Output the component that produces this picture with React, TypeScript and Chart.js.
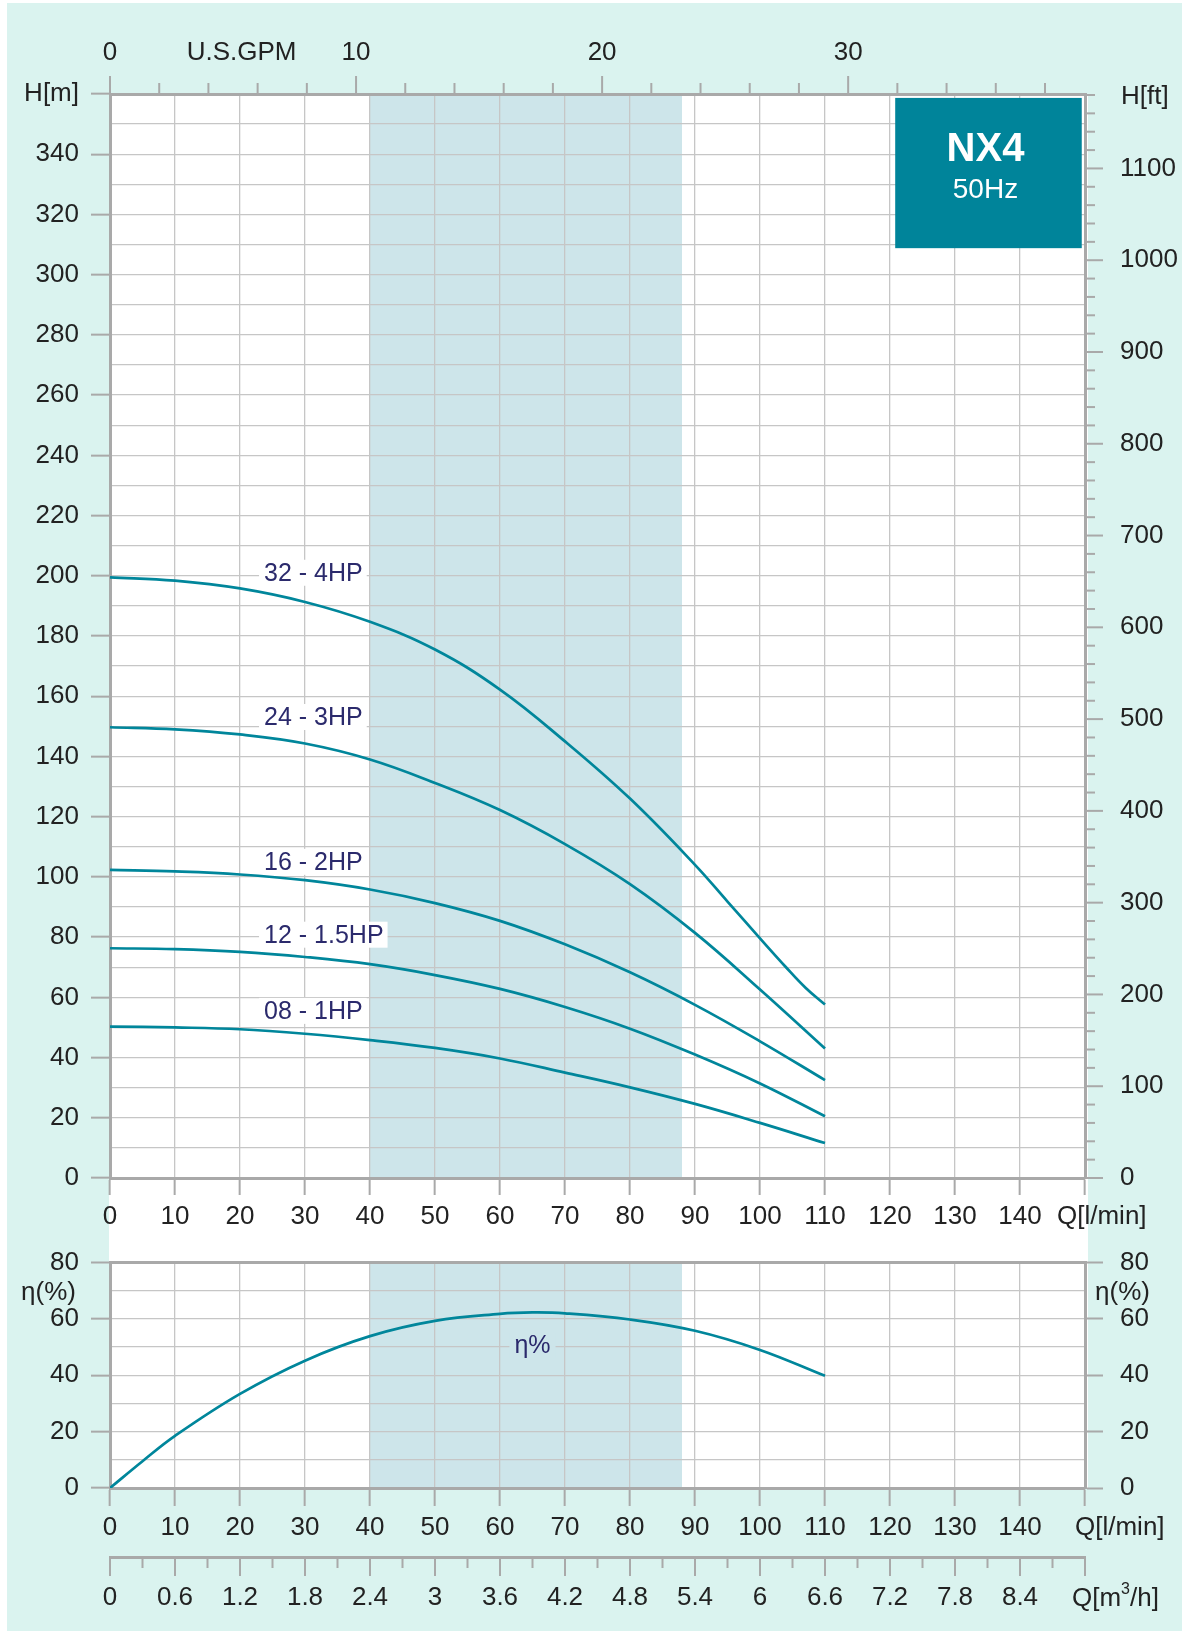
import React, { useEffect, useRef } from 'react';
import { Chart, registerables } from 'chart.js';

Chart.register(...registerables);

// ---------- data ----------
const FLOW = [0, 10, 20, 30, 40, 50, 60, 70, 80, 90, 100, 110];
const HEAD_24_3HP = [149.7, 149.0, 147.3, 144.3, 139.0, 131.2, 122.2, 110.9, 97.6, 81.4, 62.6, 43.0];
const HEAD_16_2HP = [102.3, 101.8, 100.8, 98.9, 95.8, 91.3, 85.4, 77.6, 68.3, 57.5, 45.4, 32.5];
const HEAD_12_15HP = [76.3, 76.0, 75.1, 73.4, 71.0, 67.4, 62.8, 56.8, 49.6, 41.0, 31.4, 20.5];
const HEAD_08_1HP = [50.3, 50.0, 49.4, 47.9, 45.8, 43.2, 39.7, 35.0, 30.1, 24.6, 18.3, 11.6];
const FLOW_32_4HP = [0, 10, 20, 30, 40, 50, 60, 70, 80, 90, 95, 100, 104, 107, 110];
const HEAD_32_4HP = [199.5, 198.4, 195.8, 191.3, 184.7, 175.5, 162.2, 145.0, 126.0, 104.0, 91.8, 79.6, 70.0, 63.2, 57.6];

const FLOW_ETA = [0, 5, 10, 20, 30, 40, 50, 60, 65, 70, 80, 90, 100, 110];
const ETA = [0, 9.5, 18.5, 33.4, 45.2, 53.9, 59.3, 61.8, 62.3, 62.0, 59.8, 55.8, 49.0, 39.8];

const CURVE_NAMES = ['32 - 4HP', '24 - 3HP', '16 - 2HP', '12 - 1.5HP', '08 - 1HP'];
const CURVE_LABEL_FLOW = [23.7, 23.7, 23.7, 23.7, 23.7];
const CURVE_LABEL_HEAD = [201.0, 153.1, 105.0, 80.8, 55.5];
const ETA_LABEL_FLOW = 65;
const ETA_LABEL_VALUE = 50.5;

const BAND_FROM = 40;
const BAND_TO = 88;
const LPM_MAX = 150;
const HEAD_MAX = 360;
const ETA_MAX = 80;
const LPM_PER_GPM = 3.785411784;
const FT_PER_M = 3.28084;
const M3H_PER_LPM = 0.06;

const LPM_LABELS = ['0', '10', '20', '30', '40', '50', '60', '70', '80', '90', '100', '110', '120', '130', '140'];
const GPM_LABELS = ['0', '10', '20', '30'];
const FT_LABELS = ['0', '100', '200', '300', '400', '500', '600', '700', '800', '900', '1000', '1100'];
const M3H_LABELS = ['0', '0.6', '1.2', '1.8', '2.4', '3', '3.6', '4.2', '4.8', '5.4', '6', '6.6', '7.2', '7.8', '8.4'];

const MODEL = 'NX4';
const FREQ = '50Hz';
const BOX_FLOW = [120.8, 149.5];
const BOX_HEAD = [308.8, 358.7];

// ---------- styles ----------
const FONT = "'Liberation Sans', Arial, Helvetica, sans-serif";
const TEXT = '#222222';
const GRID = '#c6c6c6';
const FRAME = '#a9a9a9';
const TEAL = '#00869b';
const NAVY = '#2b2a6c';
const BAND = '#cde5ea';
const MINT = '#daf3ef';
const BOXC = '#00849a';
const TRANSP = 'rgba(0,0,0,0)';
const FS = 26;

Chart.defaults.font.family = FONT;
Chart.defaults.font.size = FS;
Chart.defaults.color = TEXT;

const near = (a: number, b: number) => Math.abs(a - b) < 1e-6;

function curve(flow: number[], head: number[]) {
  return {
    data: flow.map((q, i) => ({ x: q, y: head[i] })),
    borderColor: TEAL,
    borderWidth: 2.7,
    pointRadius: 0,
    tension: 0.4,
    fill: false,
    xAxisID: 'x',
    yAxisID: 'y',
  };
}

function band(chart: any) {
  const { ctx, chartArea: a, scales } = chart;
  const x0 = scales.x.getPixelForValue(BAND_FROM);
  const x1 = scales.x.getPixelForValue(BAND_TO);
  ctx.save();
  ctx.fillStyle = BAND;
  ctx.fillRect(x0, a.top, x1 - x0, a.bottom - a.top);
  ctx.restore();
}

function tick(ctx: CanvasRenderingContext2D, x0: number, y0: number, x1: number, y1: number) {
  ctx.beginPath();
  ctx.moveTo(x0, y0);
  ctx.lineTo(x1, y1);
  ctx.stroke();
}

const headPlugin = {
  id: 'headDecor',
  beforeDraw(chart: any) {
    band(chart);
  },
  beforeDatasetsDraw(chart: any) {
    const { ctx, scales } = chart;
    ctx.save();
    ctx.font = `25px ${FONT}`;
    ctx.textBaseline = 'middle';
    ctx.textAlign = 'left';
    CURVE_NAMES.forEach((name, i) => {
      const px = scales.x.getPixelForValue(CURVE_LABEL_FLOW[i]);
      const py = scales.y.getPixelForValue(CURVE_LABEL_HEAD[i]);
      const w = ctx.measureText(name).width;
      ctx.fillStyle = '#ffffff';
      ctx.fillRect(px - 5, py - 13, w + 9, 26);
      ctx.fillStyle = NAVY;
      ctx.fillText(name, px, py + 1);
    });
    ctx.restore();
  },
  afterDraw(chart: any) {
    const { ctx, chartArea: a, scales } = chart;
    ctx.save();
    ctx.strokeStyle = FRAME;
    ctx.lineWidth = 2;
    // GPM ticks
    for (let g = 0; g <= 38; g += 2) {
      const px = scales.x2.getPixelForValue(g);
      const len = g % 10 === 0 ? 18 : 11;
      tick(ctx, px, a.top - len, px, a.top);
    }
    // ft ticks
    for (let f = 0; f <= 1180; f += 20) {
      const py = scales.y2.getPixelForValue(f);
      const len = f % 100 === 0 ? 18 : 10;
      tick(ctx, a.right, py, a.right + len, py);
    }
    // model box
    const bx0 = scales.x.getPixelForValue(BOX_FLOW[0]);
    const bx1 = scales.x.getPixelForValue(BOX_FLOW[1]);
    const by0 = scales.y.getPixelForValue(BOX_HEAD[1]);
    const by1 = scales.y.getPixelForValue(BOX_HEAD[0]);
    ctx.fillStyle = BOXC;
    ctx.fillRect(bx0, by0, bx1 - bx0, by1 - by0);
    const cx = (bx0 + bx1) / 2 - 3;
    const cy = (by0 + by1) / 2;
    ctx.fillStyle = '#ffffff';
    ctx.textAlign = 'center';
    ctx.textBaseline = 'middle';
    ctx.font = `bold 40px ${FONT}`;
    ctx.fillText(MODEL, cx, cy - 23);
    ctx.font = `28px ${FONT}`;
    ctx.fillText(FREQ, cx, cy + 17);
    // axis titles
    ctx.fillStyle = TEXT;
    ctx.font = `${FS}px ${FONT}`;
    ctx.textAlign = 'center';
    ctx.fillText('U.S.GPM', scales.x2.getPixelForValue(5.35), a.top - 41);
    ctx.textAlign = 'left';
    ctx.fillText('H[ft]', a.right + 36, a.top + 3);
    ctx.fillText('Q[l/min]', a.right - 28, a.bottom + 39);
    ctx.restore();
  },
};

const etaPlugin = {
  id: 'etaDecor',
  beforeDraw(chart: any) {
    band(chart);
  },
  beforeDatasetsDraw(chart: any) {
    const { ctx, scales } = chart;
    const px = scales.x.getPixelForValue(ETA_LABEL_FLOW);
    const py = scales.y.getPixelForValue(ETA_LABEL_VALUE);
    ctx.save();
    ctx.font = `25px ${FONT}`;
    ctx.textAlign = 'center';
    ctx.textBaseline = 'middle';
    const w = ctx.measureText('η%').width;
    ctx.fillStyle = BAND;
    ctx.fillRect(px - w / 2 - 5, py - 13, w + 10, 26);
    ctx.fillStyle = NAVY;
    ctx.fillText('η%', px, py);
    ctx.restore();
  },
  afterDraw(chart: any) {
    const { ctx, chartArea: a, scales } = chart;
    const x3 = scales.x3;
    ctx.save();
    ctx.strokeStyle = FRAME;
    ctx.lineWidth = 2;
    for (let k = 0; k <= 30; k++) {
      const px = x3.getPixelForValue(k * 0.3);
      const len = k % 2 === 0 ? 19 : 11;
      tick(ctx, px, x3.top + 1, px, x3.top + len);
    }
    ctx.fillStyle = TEXT;
    ctx.font = `${FS}px ${FONT}`;
    ctx.textBaseline = 'middle';
    const ey = scales.y.getPixelForValue(69.2);
    ctx.textAlign = 'right';
    ctx.fillText('η(%)', a.left - 34, ey);
    ctx.fillText('η(%)', a.right + 65, ey);
    ctx.textAlign = 'left';
    ctx.fillText('Q[l/min]', a.right - 10, a.bottom + 40);
    // Q[m3/h]
    let tx = a.right - 13;
    const ty = x3.top + 42;
    ctx.fillText('Q[m', tx, ty);
    tx += ctx.measureText('Q[m').width;
    ctx.font = `16px ${FONT}`;
    ctx.fillText('3', tx, ty - 9);
    tx += ctx.measureText('3').width;
    ctx.font = `${FS}px ${FONT}`;
    ctx.fillText('/h]', tx, ty);
    ctx.restore();
  },
};

function HeadChart() {
  const ref = useRef<HTMLCanvasElement>(null);
  useEffect(() => {
    const chart = new Chart(ref.current as HTMLCanvasElement, {
      type: 'line',
      data: {
        datasets: [
          curve(FLOW_32_4HP, HEAD_32_4HP),
          curve(FLOW, HEAD_24_3HP),
          curve(FLOW, HEAD_16_2HP),
          curve(FLOW, HEAD_12_15HP),
          curve(FLOW, HEAD_08_1HP),
        ] as any,
      },
      options: {
        responsive: false,
        animation: false,
        devicePixelRatio: 1,
        layout: { padding: 0 },
        plugins: { legend: { display: false }, tooltip: { enabled: false } },
        scales: {
          x: {
            type: 'linear',
            position: 'bottom',
            min: 0,
            max: LPM_MAX,
            bounds: 'data',
            afterFit: (s: any) => { s.height = 62; },
            ticks: {
              stepSize: 10,
              autoSkip: false,
              maxRotation: 0,
              padding: 6,
              callback: (v: any) => LPM_LABELS[Math.round(v / 10)] ?? '',
            },
            grid: {
              color: (c: any) => (near(c.tick.value, 0) || near(c.tick.value, LPM_MAX) ? TRANSP : GRID),
              lineWidth: 1.3,
              drawTicks: true,
              tickLength: 17,
              tickColor: FRAME,
              tickWidth: 2,
            },
            border: { display: true, color: FRAME, width: 3 },
          },
          x2: {
            type: 'linear',
            position: 'top',
            min: 0,
            max: LPM_MAX / LPM_PER_GPM,
            bounds: 'data',
            afterFit: (s: any) => { s.height = 94; },
            ticks: {
              stepSize: 2,
              autoSkip: false,
              maxRotation: 0,
              padding: 26,
              callback: (v: any) => {
                const k = Math.round(v);
                return near(v, k) && k % 10 === 0 ? GPM_LABELS[k / 10] ?? '' : '';
              },
            },
            grid: { drawOnChartArea: false, drawTicks: false },
            border: { display: true, color: FRAME, width: 3 },
          },
          y: {
            type: 'linear',
            position: 'left',
            min: 0,
            max: HEAD_MAX,
            bounds: 'data',
            afterFit: (s: any) => { s.width = 110; },
            ticks: {
              stepSize: 10,
              autoSkip: false,
              padding: 12,
              callback: (v: any) => (v % 20 === 0 ? (v === HEAD_MAX ? 'H[m]' : String(v)) : ''),
            },
            grid: {
              color: (c: any) => (near(c.tick.value, 0) || near(c.tick.value, HEAD_MAX) ? TRANSP : GRID),
              lineWidth: 1.3,
              tickLength: 19,
              tickColor: (c: any) => (c.tick.value % 20 === 0 ? FRAME : TRANSP),
              tickWidth: 2,
            },
            border: { display: true, color: FRAME, width: 3 },
          },
          y2: {
            type: 'linear',
            position: 'right',
            min: 0,
            max: HEAD_MAX * FT_PER_M,
            bounds: 'data',
            afterFit: (s: any) => { s.width = 97; },
            ticks: {
              stepSize: 20,
              autoSkip: false,
              padding: 35,
              callback: (v: any) => (near(v % 100, 0) ? FT_LABELS[Math.round(v / 100)] ?? '' : ''),
            },
            grid: { drawOnChartArea: false, drawTicks: false },
            border: { display: true, color: FRAME, width: 3 },
          },
        },
      } as any,
      plugins: [headPlugin],
    });
    return () => chart.destroy();
  }, []);
  return <canvas ref={ref} width={1182} height={1240} style={{ position: 'absolute', left: 0, top: 0 }} />;
}

function EtaChart() {
  const ref = useRef<HTMLCanvasElement>(null);
  useEffect(() => {
    const chart = new Chart(ref.current as HTMLCanvasElement, {
      type: 'line',
      data: { datasets: [curve(FLOW_ETA, ETA)] as any },
      options: {
        responsive: false,
        animation: false,
        devicePixelRatio: 1,
        layout: { padding: { top: 27, left: 0, right: 0, bottom: 0 } },
        plugins: { legend: { display: false }, tooltip: { enabled: false } },
        scales: {
          x: {
            type: 'linear',
            position: 'bottom',
            weight: 1,
            min: 0,
            max: LPM_MAX,
            bounds: 'data',
            afterFit: (s: any) => { s.height = 69; },
            ticks: {
              stepSize: 10,
              autoSkip: false,
              maxRotation: 0,
              padding: 6,
              callback: (v: any) => LPM_LABELS[Math.round(v / 10)] ?? '',
            },
            grid: {
              color: (c: any) => (near(c.tick.value, 0) || near(c.tick.value, LPM_MAX) ? TRANSP : GRID),
              lineWidth: 1.3,
              drawTicks: true,
              tickLength: 18,
              tickColor: FRAME,
              tickWidth: 2,
            },
            border: { display: true, color: FRAME, width: 3 },
          },
          x3: {
            type: 'linear',
            position: 'bottom',
            weight: 2,
            min: 0,
            max: LPM_MAX * M3H_PER_LPM,
            bounds: 'data',
            afterFit: (s: any) => { s.height = 74; },
            ticks: {
              stepSize: 0.3,
              autoSkip: false,
              maxRotation: 0,
              padding: 25,
              callback: (v: any) => {
                const k = Math.round(v / 0.3);
                return k % 2 === 0 ? M3H_LABELS[k / 2] ?? '' : '';
              },
            },
            grid: { drawOnChartArea: false, drawTicks: false },
            border: { display: true, color: FRAME, width: 3 },
          },
          y: {
            type: 'linear',
            position: 'left',
            min: 0,
            max: ETA_MAX,
            bounds: 'data',
            afterFit: (s: any) => { s.width = 110; },
            ticks: {
              stepSize: 10,
              autoSkip: false,
              padding: 12,
              callback: (v: any) => (v % 20 === 0 ? String(v) : ''),
            },
            grid: {
              color: (c: any) => (near(c.tick.value, 0) ? TRANSP : near(c.tick.value, ETA_MAX) ? FRAME : GRID),
              lineWidth: (c: any) => (near(c.tick.value, ETA_MAX) ? 3 : 1.3),
              tickLength: 19,
              tickColor: (c: any) => (c.tick.value % 20 === 0 ? FRAME : TRANSP),
              tickWidth: 2,
            },
            border: { display: true, color: FRAME, width: 3 },
          },
          y2: {
            type: 'linear',
            position: 'right',
            min: 0,
            max: ETA_MAX,
            bounds: 'data',
            afterFit: (s: any) => { s.width = 97; },
            ticks: { stepSize: 20, autoSkip: false, padding: 17 },
            grid: { drawOnChartArea: false, drawTicks: true, tickLength: 18, tickColor: FRAME, tickWidth: 2 },
            border: { display: true, color: FRAME, width: 3 },
          },
        },
      } as any,
      plugins: [etaPlugin],
    });
    return () => chart.destroy();
  }, []);
  return <canvas ref={ref} width={1182} height={401} style={{ position: 'absolute', left: 0, top: 1230 }} />;
}

export default function App() {
  return (
    <div style={{ position: 'absolute', left: 0, top: 0, width: 1182, height: 1631, background: '#ffffff', overflow: 'hidden' }}>
      <div style={{ position: 'absolute', left: 7, top: 3, right: 0, bottom: 0, background: MINT }} />
      <div style={{ position: 'absolute', left: 109, top: 94, width: 979, height: 1394, background: '#ffffff' }} />
      <HeadChart />
      <EtaChart />
    </div>
  );
}
